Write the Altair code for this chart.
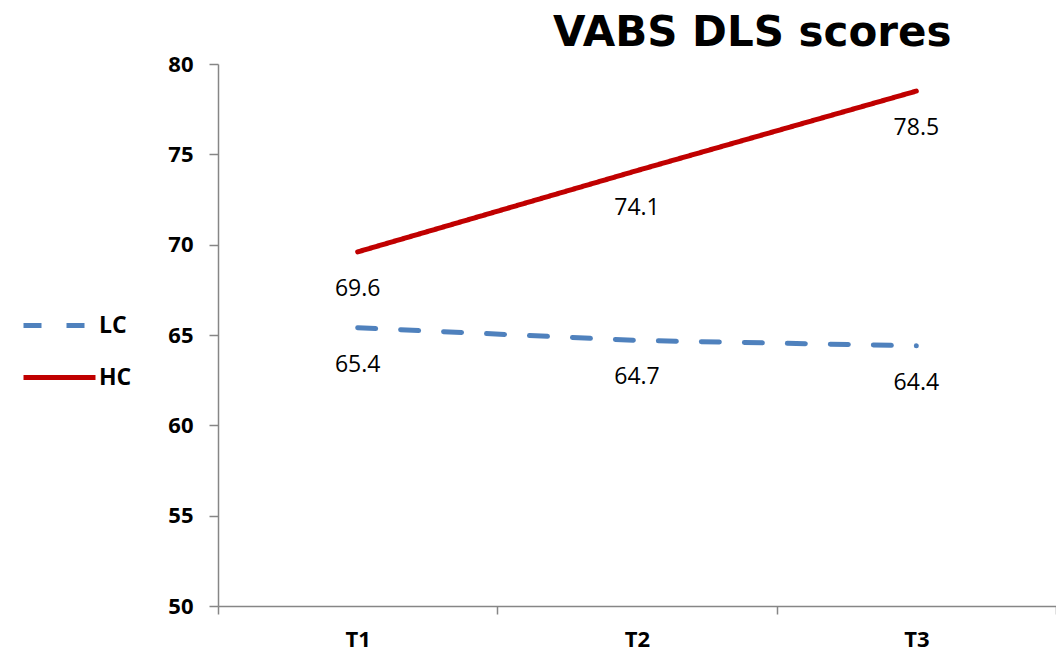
import altair as alt
import pandas as pd

times = ["T1", "T2", "T3"]
series_names = ["LC", "HC"]
lc_values = [65.4, 64.7, 64.4]
hc_values = [69.6, 74.1, 78.5]
y_ticks = [50, 55, 60, 65, 70, 75, 80]

rows = []
for t, v in zip(times, lc_values):
    rows.append({"time": t, "series": "LC", "value": v})
for t, v in zip(times, hc_values):
    rows.append({"time": t, "series": "HC", "value": v})
df = pd.DataFrame(rows)

legend = alt.Legend(
    orient="none", legendX=-170, legendY=250, title=None,
    symbolType="M-6,0H6", symbolSize=144, symbolStrokeWidth=5,
    symbolFillColor="transparent",
    labelFont="Open Sans", labelFontSize=23, labelFontWeight="bold",
    labelColor="black", labelOffset=28, rowPadding=28, padding=0,
)

x_enc = alt.X("time:N", sort=times, title=None,
              scale=alt.Scale(paddingInner=0, paddingOuter=0),
              axis=alt.Axis(labelAngle=0, tickBand="extent", tickSize=8,
                            labelPadding=15, labelFont="Open Sans",
                            labelFontSize=22, labelFontWeight="bold",
                            labelColor="black", domainColor="#868686",
                            tickColor="#868686", domainWidth=1.5, tickWidth=1.5,
                            grid=False))
y_enc = alt.Y("value:Q", title=None,
              scale=alt.Scale(domain=[50, 80], nice=False, zero=False),
              axis=alt.Axis(values=y_ticks, tickSize=9, labelPadding=16,
                            labelFont="Open Sans", labelFontSize=22,
                            labelFontWeight="bold", labelColor="black",
                            domainColor="#868686", tickColor="#868686",
                            domainWidth=1.5, tickWidth=1.5, grid=False))

lines = alt.Chart(df).mark_line(strokeWidth=5, strokeCap="round").encode(
    x=x_enc,
    y=y_enc,
    color=alt.Color("series:N", sort=series_names,
                    scale=alt.Scale(domain=series_names, range=["#4F81BD", "#C00000"]),
                    legend=legend),
    strokeDash=alt.StrokeDash("series:N", sort=series_names,
                              scale=alt.Scale(domain=series_names, range=[[18, 25], [1, 0]]),
                              legend=legend),
    detail="series:N",
)

labels = alt.Chart(df).mark_text(dy=37, font="Open Sans", fontSize=23,
                                 color="black", baseline="middle").encode(
    x=alt.X("time:N", sort=times),
    y=alt.Y("value:Q"),
    text=alt.Text("value:Q", format=".1f"),
)

chart = alt.layer(lines, labels).properties(
    width=838, height=542,
    background="white",
    title=alt.TitleParams(text="VABS DLS scores", font="DejaVu Sans", fontSize=42,
                          fontWeight="bold", color="black", anchor="start",
                          frame="group", dx=335, dy=16, offset=14),
    autosize=alt.AutoSizeParams(type="none"),
    padding={"left": 210, "top": 56, "right": 0, "bottom": 52},
).configure_view(strokeWidth=0).configure_axis(grid=False)

chart.save("out.html", embed_options={"renderer": "svg", "actions": False})
